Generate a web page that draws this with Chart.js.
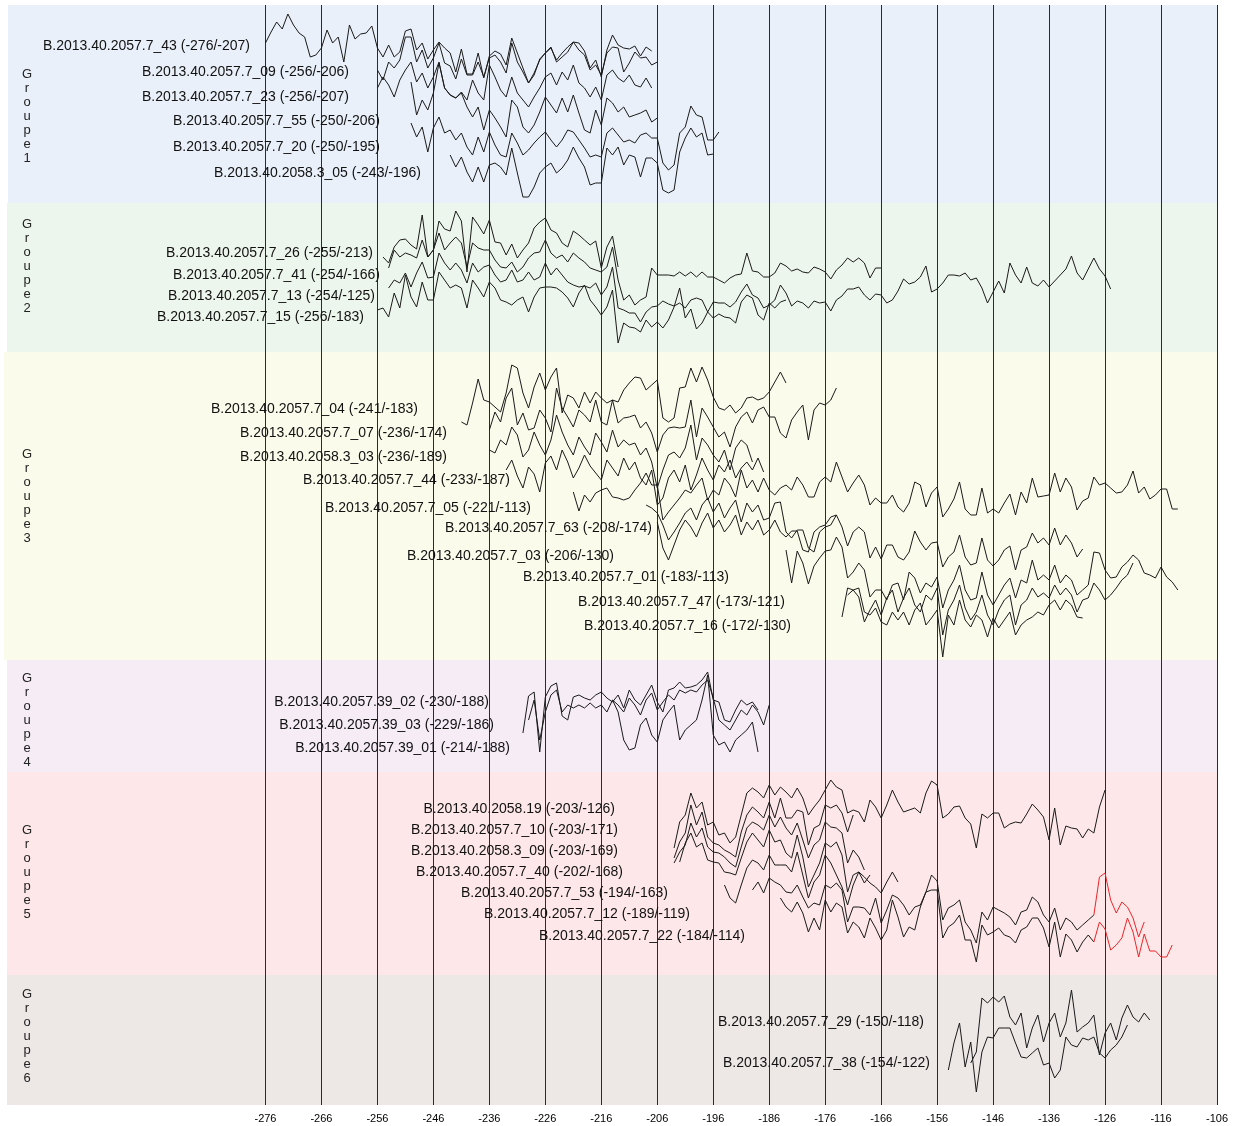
<!DOCTYPE html>
<html>
<head>
<meta charset="utf-8">
<script src="https://cdn.jsdelivr.net/npm/chart.js@4.4.1/dist/chart.umd.min.js"></script>
<style>
  html, body { margin: 0; padding: 0; background: #fff; }
  #chart { display: block; }
</style>
</head>
<body>
<canvas id="chart" width="1237" height="1126"></canvas>
<script>
// x axis ticks (years)
const tickYears = [-276, -266, -256, -246, -236, -226, -216, -206, -196, -186, -176, -166, -156, -146, -136, -126, -116, -106];
const groupNames = ["Groupe 1", "Groupe 2", "Groupe 3", "Groupe 4", "Groupe 5", "Groupe 6"];

// ring series, one value per year from first to last year
// Groupe 1
const v7_43 = [47,58,68,61,76,65,57,53,33,35,42,60,47,53,28,65,51,56,57,64,42,33,45,33,38,59,61,40,47,31,40,48,42,37,18,41,16,16,37,12,34,39,36,25,52,37,22,7,17,30,37,43,28,33,38,48,47,39,22,30,13,40,55,45,42,41,44,34,43,39];
const v7_09 = [30,20,38,32,40,63,63,38,50,32,42,57,37,34,21,41,25,25,38,23,42,45,38,27,57,38,28,17,25,41,47,52,40,47,53,58,50,45,30,35,25,47,53,52,28,37,48,42,43,35,38];
const v7_23 = [32,43,35,23,40,50,58,38,47,32,43,58,32,25,22,28,20,40,27,20,55,43,30,23,43,27,20,13,23,32,43,47,35,48,40,55,37,32,23,33,20,45,50,42,38,45,35,33,42,32];
const v7_55 = [68,35,50,40,57,87,62,55,52,57,43,33,43,20,40,32,23,13,50,43,23,17,25,38,53,45,37,52,38,55,37,20,17,40,25,52,47,38,43,33,35,37,40,28,32];
const v7_20 = [57,43,53,28,52,63,47,50,40,47,33,25,43,28,48,35,25,23,47,37,25,30,37,43,48,40,33,40,50,48,40,32,23,25,23,47,52,45,38,40,37,45,47,42,42,17,10,15,47,53,74,65,63,40,40,48];
const v58_3_05 = [45,33,43,28,18,33,18,35,37,33,25,52,27,3,3,13,27,33,37,27,32,40,53,42,33,15,17,17,52,45,53,35,45,43,23,42,42,37,10,7,10,48,62,72,63,67,45,46];
// Groupe 2
const v7_26 = [33,27,43,50,51,45,41,75,33,40,69,61,59,79,69,18,73,65,56,70,48,47,35,46,32,40,47,62,68,72,60,57,47,43,59,55,50,45,49,22,43,54,23];
const v7_41 = [42,60,53,57,55,52,70,53,60,77,60,67,73,67,43,67,62,60,60,50,43,42,48,38,43,52,57,58,70,57,52,55,48,57,52,48,42,40,38,43,63,30,10,15,5,10,
  13,42,35,35,35,34,38,34,38,33,38,33,33,30,27,32,35,36,57,39,38,33,33,37,47,44,39,41,38,37,43,41,38,31,40,45,52,48,52,47,32,42,42];
const v7_13 = [42,50,47,57,43,57,68,52,53,77,67,60,67,60,47,67,58,63,65,55,48,50,60,48,50,58,50,53,67,55,62,55,48,45,43,44,42,47,35,43,63,22,20,17,17,8,
  18,23,24,29,26,24,27,22,30,32,30,18,28,27,27,23,28,38,46,35,32,22,25,30,45,37,24,29,27,22,29,27,28,19,30,34,41,41,43,35,30,36,35,27,30,39,51,46,48,53,
  64,38,41,47,55,55,54,57,50,52,42,27,38,49,37,67,55,47,63,47,44,50,43,49,55,61,74,57,50,61,72,61,54,41];
const v7_15 = [40,42,33,57,42,75,53,43,68,50,50,78,70,62,65,62,42,70,62,53,68,62,50,48,45,50,53,38,53,62,63,63,62,58,52,43,57,65,50,43,35,43,60,7,27,23,22,18,
  30,23,28,22,30,43,62,32,41,21,27,38,32,36,33,32,27,48,55,52,35,30,47,42,48,50];
// Groupe 3
const v7_04 = [18,15,37,61,40,38,33,28,47,75,72,47,32,53,67,50,63,72,27,45,42,32,48,37,48,42,37,40,38,50,57,63,62,50,55,60,22,18,22,52,53,72,58,73,60,43,32,30,35,27,32,42,43,40,42,48,58,68,57];
const v7_07 = [30,48,38,62,72,35,47,30,32,50,42,28,72,52,43,33,50,45,38,60,38,35,60,37,42,43,45,32,38,27,8,25,32,33,32,33,60,23,52,43,33,23,28,13,33,43,48,37,50,53,43,43,27,22,40,48,55,20,50,57,55,60,72];
const v58_3_03 = [50,47,60,55,73,65,43,50,68,55,45,60,85,68,55,45,63,53,45,67,58,48,70,53,60,55,57,45,52,38,12,30,45,48,42,52,75,40,62,55,45,38,50,30,52,60,55,38];
const v7_44 = [50,60,44,32,53,46,28,57,64,50,70,58,42,52,65,54,47,40,60,52,44,62,50,58,42,35,50,15,22,42,50,38,55,30,45,62,50,40,55,48,60,42,52,58,50,62,48];
const v7_05 = [48,29,45,38,47,50,52,43,42,40,42,50,57,67,55,55,20,28,35,42,50,47,55,62,40,50,45,62,55,43,70,52,60,48,62,50,45,52,
  55,50,63,55,43,43,58,63,58,78,63,48,57,65,55,35,42,37,37,45,33,28,37,58,55,33,47,53,23,31,41,58,31,25,25,52,27,31,27,37,
  46,25,48,37,62,43,44,45,67,48,62,53,30,39,42,63,55,57,52,47,48,55,69,47,53,41,45,51,51,31,31];
const v7_63 = [55,52,47,35,20,28,37,47,52,40,55,62,48,57,42,52,60,38,57,48,55,40,42,57,58,28,22,30,30,12,8,28,33,35,45];
const v7_03 = [58,32,20,35,50,60,53,43,57,67,52,60,48,55,65,45,58,50,60,45,50,60,
  48,43,49,49,30,28,48,53,55,63,65,53,34,48,53,48,22,33,21,35,35,23,20,28,49,38,30,37,38,13,23,28,45,23,15,17,42,20,14,20,30,34,10,30,33,47,37,42,35,52,35,45,37,23,31];
const v7_01 = [70,37,69,57,36,54,62,69,70,83,73,42,48,57,50,23,30,30,20,35,37,20,48,42,27,37,33,43,12,30,40,55,30,20,22,48,25,15,25,35,42,22,40,37,60,40,45,40,55,37,45,40,25,30,35,68,67,50,42,43,53,58,65,60,47,45,42,53,43,38,30];
const v7_47 = [23,52,50,43,18,30,40,25,42,50,28,42,52,35,28,45,40,52,5,30,40,55,32,20,28,45,25,15,30,40,45,15,35,40,52,43,47,42,55,45,52,45,28,40,42,57,50,40,45,52,60,65,77];
const v7_16 = [70,75,77,53,50,57,43,40,53,45,53,40,55,62,40,47,55,8,50,40,65,45,38,50,45,28,47,37,45,53,30,40,45,48,53,50,60,65,55,65,60,48,47];
// Groupe 4
const v39_02 = [27,64,68,8,63,74,77,44,40,63,65,62,60,65,68,62,58,65,52,70,60,55,65,75,58,48,70,72,78,72,73,75,80,88,60,58,40,38,50,60,55,58,50];
const v39_03 = [40,60,20,48,65,70,48,55,52,55,52,57,52,55,48,60,55,48,62,55,45,60,67,50,58,65,60,70,67,70,68,75,80,62,40,35,30,40,50,45,55,48,35,55];
const v39_01 = [60,48,20,10,12,35,42,25,18,40,48,55,20,30,35,40,60,85,25,15,18,8,20,25,30,38,8];
// Groupe 5
const v58_19 = [12,38,45,67,52,58,35,38,25,27,17,23,45,67,72,68,62,75,65,
  73,68,62,72,62,45,53,60,70,80,73,70,47,50,48,38,60,53,42,55,70,58,48,50,52,47,67,79,75,42,46,53,54,42,36,12,46,42,47,47,32,36,38,37,46,56,50,43,20,52,15,34,32,31,22,31,27,53,70];
const v7_10 = [12,28,37,65,45,58,33,27,25,20,17,13,38,55,63,58,52,68,52,72,52,52,60,58,25,42,45,65,62,65,57,38,55];
const v58_3_09 = [22,33,40,62,48,57,38,33,32,28,22,18,38,57,63,60,55,70,58,68,57,50,62,45,27,40,45,63,58,57,52,22,35,28,15];
const v7_40 = [38,57,67,53,57,40,38,37,28,27,25,42,58,67,60,53,70,58,60,47,42,65,43,13,25,37,57,53,58,45,8,25,28,17,25];
const v7_53 = [30,17,12,30,47,55,52,45,60,50,50,50,43,63,40,17,33,40,60,52,40,28,10,30,43,38,32,28,22,33,43,33];
const v7_12 = [60,68,57,72,68,65,58,57,65,53,42,47,45,65,62,67,60,28,43,43,42,35,52,27,40,55,52,45,35,43,45,58,75,69,30,42,45,50,28,20,7,38,30,43,40,37,33,25,38,40,53,48,35,28,42,20,32,28,20,25,30,35,73,77,50,37,48,43,32,13,28];
const v7_22 = [77,68,63,73,62,43,57,45,75,63,72,68,42,53,48,37,57,47,35,45,75,58,38,48,45,68,83,85,85,37,48,52,60,35,35,13,50,40,43,47,40,38,32,45,48,57,57,47,28,53,18,41,35,23,33,40,33,
  53,46,25,30,37,57,43,18,41,24,24,18,18,30];
// Groupe 6
const v7_29 = [17,28,82,77,83,78,84,63,55,67,32,52,65,38,57,67,43,57,90,48,53,57,65,25,47,57,40,62,75,63,58,67,60];
const v7_38 = [30,57,77,33,58,8,48,63,62,72,72,72,57,43,42,47,52,35,37,22,30,63,55,53,62,60,63,47,42,50,55,63,75];

const series = [
  { name: "B.2013.40.2057.7_43", from: -276, to: -207, group: 0, values: v7_43 },
  { name: "B.2013.40.2057.7_09", from: -256, to: -206, group: 0, values: v7_09 },
  { name: "B.2013.40.2057.7_23", from: -256, to: -207, group: 0, values: v7_23 },
  { name: "B.2013.40.2057.7_55", from: -250, to: -206, group: 0, values: v7_55 },
  { name: "B.2013.40.2057.7_20", from: -250, to: -195, group: 0, values: v7_20 },
  { name: "B.2013.40.2058.3_05", from: -243, to: -196, group: 0, values: v58_3_05 },
  { name: "B.2013.40.2057.7_26", from: -255, to: -213, group: 1, values: v7_26 },
  { name: "B.2013.40.2057.7_41", from: -254, to: -166, group: 1, values: v7_41 },
  { name: "B.2013.40.2057.7_13", from: -254, to: -125, group: 1, values: v7_13 },
  { name: "B.2013.40.2057.7_15", from: -256, to: -183, group: 1, values: v7_15 },
  { name: "B.2013.40.2057.7_04", from: -241, to: -183, group: 2, values: v7_04 },
  { name: "B.2013.40.2057.7_07", from: -236, to: -174, group: 2, values: v7_07 },
  { name: "B.2013.40.2058.3_03", from: -236, to: -189, group: 2, values: v58_3_03 },
  { name: "B.2013.40.2057.7_44", from: -233, to: -187, group: 2, values: v7_44 },
  { name: "B.2013.40.2057.7_05", from: -221, to: -113, group: 2, values: v7_05 },
  { name: "B.2013.40.2057.7_63", from: -208, to: -174, group: 2, values: v7_63 },
  { name: "B.2013.40.2057.7_03", from: -206, to: -130, group: 2, values: v7_03 },
  { name: "B.2013.40.2057.7_01", from: -183, to: -113, group: 2, values: v7_01 },
  { name: "B.2013.40.2057.7_47", from: -173, to: -121, group: 2, values: v7_47 },
  { name: "B.2013.40.2057.7_16", from: -172, to: -130, group: 2, values: v7_16 },
  { name: "B.2013.40.2057.39_02", from: -230, to: -188, group: 3, values: v39_02 },
  { name: "B.2013.40.2057.39_03", from: -229, to: -186, group: 3, values: v39_03 },
  { name: "B.2013.40.2057.39_01", from: -214, to: -188, group: 3, values: v39_01 },
  { name: "B.2013.40.2058.19", from: -203, to: -126, group: 4, values: v58_19 },
  { name: "B.2013.40.2057.7_10", from: -203, to: -171, group: 4, values: v7_10 },
  { name: "B.2013.40.2058.3_09", from: -203, to: -169, group: 4, values: v58_3_09 },
  { name: "B.2013.40.2057.7_40", from: -202, to: -168, group: 4, values: v7_40 },
  { name: "B.2013.40.2057.7_53", from: -194, to: -163, group: 4, values: v7_53 },
  { name: "B.2013.40.2057.7_12", from: -189, to: -119, group: 4, values: v7_12, redFrom: -128 },
  { name: "B.2013.40.2057.7_22", from: -184, to: -114, group: 4, values: v7_22, redFrom: -128 },
  { name: "B.2013.40.2057.7_29", from: -150, to: -118, group: 5, values: v7_29 },
  { name: "B.2013.40.2057.7_38", from: -154, to: -122, group: 5, values: v7_38 }
];

// where each series sits on the page: baseline (px), label right end and label middle (px)
const layout = [
  [90, 250, 46], [100, 349, 72], [120, 349, 97], [150, 380, 121], [180, 380, 147], [200, 421, 173],
  [290, 373, 253], [310, 380, 275], [330, 375, 296], [350, 364, 317],
  [440, 418, 409], [460, 447, 433], [500, 447, 457], [520, 510, 480], [540, 531, 508],
  [560, 652, 528], [580, 614, 556], [620, 729, 577], [640, 785, 602], [665, 791, 626],
  [760, 489, 702], [760, 494, 725], [760, 510, 748],
  [860, 615, 809], [870, 618, 830], [885, 618, 851], [900, 623, 872], [915, 668, 893], [950, 690, 914], [975, 745, 936],
  [1080, 924, 1022], [1100, 930, 1063]
];

// group bands: top, bottom, left edge, colour, label centre
const bands = [
  [5, 203, 8, "#e9f0f9", 116],
  [203, 352, 7, "#edf6ec", 266],
  [352, 660, 4, "#fafbea", 496],
  [660, 772, 7, "#f5ecf5", 720],
  [772, 975, 7, "#fde7e8", 872],
  [975, 1105, 7, "#ede8e6", 1036]
];

const LINE = "#1a1a1a";
const RED = "#e8262a";

series.forEach((s) => {
  if (s.values.length !== s.to - s.from + 1) console.warn(s.name, s.values.length, s.to - s.from + 1);
});

const datasets = series.map((s, k) => {
  const base = layout[k][0];
  const ds = {
    label: s.name,
    data: s.values.map((v, i) => ({ x: s.from + i, y: base - v })),
    borderColor: LINE,
    borderWidth: 1,
    pointRadius: 0,
    fill: false,
    tension: 0
  };
  if (s.redFrom !== undefined) {
    ds.segment = { borderColor: (ctx) => (ctx.p0.parsed.x >= s.redFrom ? RED : LINE) };
  }
  return ds;
});

const backdrop = {
  id: "backdrop",
  beforeDraw(chart) {
    const { ctx, chartArea, scales } = chart;
    ctx.save();
    bands.forEach((b, g) => {
      const top = scales.y.getPixelForValue(b[0]);
      const bottom = scales.y.getPixelForValue(b[1]);
      ctx.fillStyle = b[3];
      ctx.fillRect(b[2], top, chartArea.right - b[2], bottom - top);
      // vertical group title, one letter per line
      const letters = groupNames[g].replace(" ", "").split("");
      ctx.fillStyle = "#222";
      ctx.font = "13px 'Liberation Sans', Arial, sans-serif";
      ctx.textAlign = "center";
      ctx.textBaseline = "middle";
      const start = b[4] - (letters.length - 1) * 7;
      letters.forEach((ch, i) => ctx.fillText(ch, 27, start + i * 14));
    });
    ctx.restore();
  },
  beforeDatasetsDraw(chart) {
    const { ctx } = chart;
    ctx.save();
    ctx.fillStyle = "#111";
    ctx.font = "14px 'Liberation Sans', Arial, sans-serif";
    ctx.textAlign = "right";
    ctx.textBaseline = "middle";
    series.forEach((s, k) => {
      ctx.fillText(s.name + " (" + s.from + "/" + s.to + ")", layout[k][1], layout[k][2]);
    });
    ctx.restore();
  }
};

new Chart(document.getElementById("chart"), {
  type: "line",
  data: { datasets },
  options: {
    responsive: false,
    animation: false,
    layout: { padding: { left: 8, right: 20, top: 5, bottom: 0 } },
    plugins: { legend: { display: false }, tooltip: { enabled: false } },
    scales: {
      x: {
        type: "linear",
        min: -322,
        max: -106,
        afterBuildTicks: (axis) => { axis.ticks = tickYears.map((v) => ({ value: v })); },
        afterFit: (axis) => { axis.height = 21; },
        grid: { color: "#2b2b2b", lineWidth: 1, drawTicks: false },
        border: { display: false },
        ticks: {
          color: "#000",
          padding: 7,
          maxRotation: 0,
          autoSkip: false,
          font: { family: "'Liberation Sans', Arial, sans-serif", size: 11 },
          callback: (v) => String(v)
        }
      },
      y: { display: false, min: 5, max: 1105, reverse: true }
    }
  },
  plugins: [backdrop]
});
</script>
</body>
</html>
